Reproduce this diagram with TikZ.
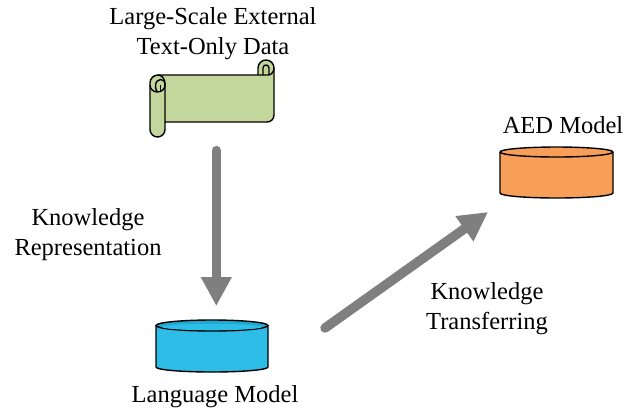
\documentclass[tikz,border=0pt]{standalone}
\usepackage{fontspec}
\setmainfont{Liberation Serif}
\usetikzlibrary{arrows.meta}
\definecolor{scrollc}{HTML}{C3D69B}
\definecolor{bluec}{HTML}{2DBDE6}
\definecolor{bluedark}{HTML}{1FA9D0}
\definecolor{orangec}{HTML}{F79F58}
\definecolor{arrowc}{HTML}{7F7F7F}
\tikzset{
 lab/.style={font=\fontsize{24.5bp}{30bp}\selectfont,align=center,inner sep=0pt},
 bigarrow/.style={draw=arrowc,line width=9.5bp,line cap=round,-{Triangle[length=29bp,width=29bp]}},
 ol/.style={draw=black,line width=1.4bp,line join=round}
}
\begin{document}
\begin{tikzpicture}[x=1bp,y=-1bp]
\useasboundingbox (0,0) rectangle (634,409);
\fill[white] (0,0) rectangle (634,409);
% scroll
\filldraw[ol,fill=scrollc] (150,83) .. controls (150,78.6) and (153.6,75) .. (158,75) -- (258,75) -- (258,68) .. controls (258,63.6) and (261.6,60) .. (266,60) .. controls (270.4,60) and (274,63.6) .. (274,68) -- (274,115) .. controls (274,118.9) and (270.9,122) .. (267,122) -- (165,122) -- (165,129.5) .. controls (165,133.6) and (161.6,137) .. (157.5,137) .. controls (153.4,137) and (150,133.6) .. (150,129.5) -- cycle;
\draw[ol] (158,75) .. controls (162,75) and (165,79) .. (165,84) -- (165,122);
\draw[ol] (150,85) .. controls (150,89) and (153.4,92) .. (157.5,92) .. controls (161.6,92) and (165,89) .. (165,85) .. controls (165,81) and (163,79.5) .. (160.5,79.5) .. controls (158,79.5) and (155.5,82) .. (155.5,85.5) .. controls (155.5,89) and (157,92) .. (157.5,92);
\draw[ol] (160.5,85) -- (160.5,92);
\draw[ol] (258,75) -- (268,75) .. controls (271.3,75) and (274,72) .. (274,68);
\draw[ol] (263,75) -- (263,68) .. controls (263,66) and (264.5,65) .. (266,65) .. controls (267.5,65) and (269,66) .. (269,68) -- (269,75);
\node[lab] (top) at (213,33.5) {Large-Scale External\\Text-Only Data};
\coordinate (scrollb) at (216.3,150.6);
\coordinate (lmt) at (216.3,306);
\draw[bigarrow] (scrollb) -- (lmt);
\node[lab] (kr) at (88,235) {Knowledge\\Representation};
% blue cyl
\filldraw[ol,fill=bluec] (156,325) -- (156,367) .. controls (156,369.8) and (181,372) .. (212,372) .. controls (243,372) and (268,369.8) .. (268,367) -- (268,325);
\filldraw[ol,fill=bluedark] (212,325.5) ellipse[x radius=56,y radius=5.5];
\fill[bluec] (212,327) ellipse[x radius=50,y radius=3.2];
\node[lab] (lm) at (215,397) {Language Model};
% orange
\filldraw[ol,fill=orangec] (500,152) -- (500,193) .. controls (500,195.8) and (525.3,198) .. (556.5,198) .. controls (587.7,198) and (613,195.8) .. (613,193) -- (613,152);
\filldraw[ol,fill=orangec] (556.5,152) ellipse[x radius=56.5,y radius=5];
\node[lab] (aed) at (563,125) {AED Model};
\coordinate (a) at (325,328);
\coordinate (b) at (488,212);
\draw[bigarrow] (a) -- (b);
\node[lab] (kt) at (487,309) {Knowledge\\Transferring};
\end{tikzpicture}
\end{document}
